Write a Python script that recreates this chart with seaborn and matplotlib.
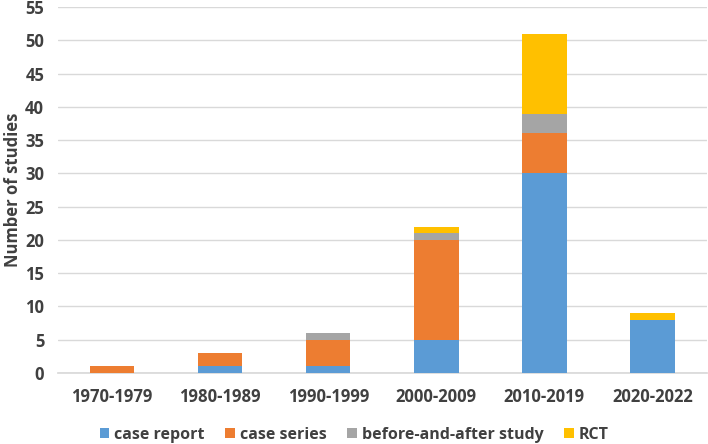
import matplotlib
matplotlib.use("Agg")

import matplotlib.pyplot as plt
import seaborn as sns
import numpy as np
import pandas as pd
from matplotlib.patches import Patch

# Data
periods = ["1970-1979", "1980-1989", "1990-1999", "2000-2009", "2010-2019", "2020-2022"]
case_report = [0, 1, 1, 5, 30, 8]
case_series = [1, 2, 4, 15, 6, 0]
before_after = [0, 0, 1, 1, 3, 0]
rct = [0, 0, 0, 1, 12, 1]

series_names = ["case report", "case series", "before-and-after study", "RCT"]
colors = ["#5B9BD5", "#ED7D31", "#A5A5A5", "#FFC000"]

df = pd.DataFrame({
    "period": periods,
    "case report": case_report,
    "case series": case_series,
    "before-and-after study": before_after,
    "RCT": rct,
})

sns.set_theme(style="white")
plt.rcParams["font.family"] = ["Open Sans", "DejaVu Sans"]
text_color = "#404040"
fsize = 12

fig = plt.figure(figsize=(7.08, 4.44), dpi=100)
ax = fig.add_axes([0.082, 0.16, 0.916, 0.824])

# Stacked bars: draw cumulative totals from the top series down
cum = df[series_names].cumsum(axis=1)
for name, color in reversed(list(zip(series_names, colors))):
    sns.barplot(x=df["period"], y=cum[name], color=color, width=0.41,
                saturation=1, linewidth=0, edgecolor="none", ax=ax, zorder=3)

ax.set_ylim(0, 55)
ax.set_yticks(np.arange(0, 56, 5))
ax.set_xlim(-0.5, 5.5)
ax.yaxis.grid(True, color="#D9D9D9", linewidth=1.0, zorder=0)
ax.set_axisbelow(True)
for s in ["top", "right", "left"]:
    ax.spines[s].set_visible(False)
ax.spines["bottom"].set_color("#D9D9D9")
ax.tick_params(axis="both", length=0, labelsize=fsize, labelcolor=text_color)
ax.tick_params(axis="x", pad=11)
ax.tick_params(axis="y", pad=10)
for lab in ax.get_xticklabels() + ax.get_yticklabels():
    lab.set_fontweight("bold")
ax.set_xlabel("")
ax.set_ylabel("Number of studies", fontsize=fsize, fontweight="bold", color=text_color, labelpad=2)

handles = [Patch(facecolor=c, edgecolor="none") for c in colors]
fig.legend(handles, series_names, loc="lower center", ncol=4, frameon=False,
           bbox_to_anchor=(0.5, -0.03), handlelength=0.6, handleheight=0.6,
           handletextpad=0.3, columnspacing=1.3,
           prop={"size": 11.5, "weight": "bold"}, labelcolor=text_color)

plt.savefig("out.png", dpi=100)
plt.close()
